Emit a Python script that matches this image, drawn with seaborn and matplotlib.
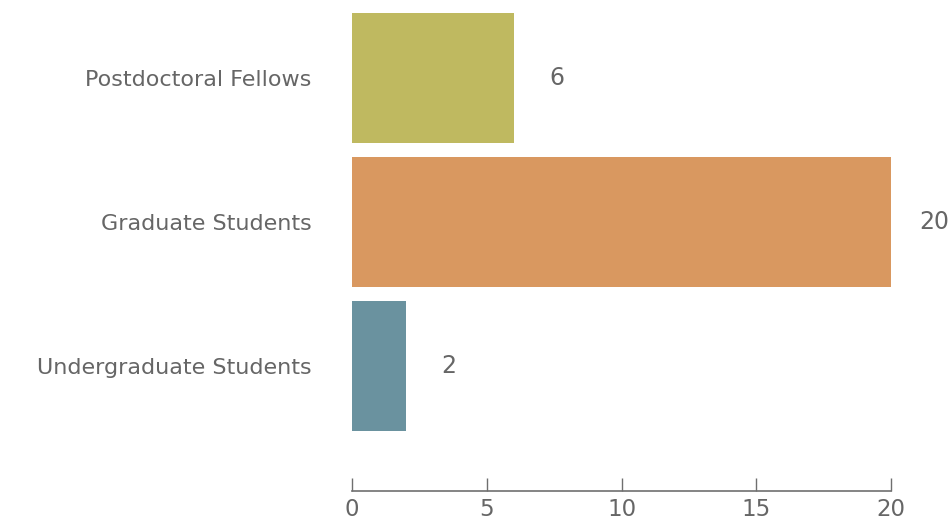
import matplotlib
matplotlib.use("Agg")
import matplotlib.pyplot as plt
import seaborn as sns
import pandas as pd

categories = ["Postdoctoral Fellows", "Graduate Students", "Undergraduate Students"]
values = [6, 20, 2]
colors = ["#BFB960", "#D99860", "#6A929F"]
xticks = [0, 5, 10, 15, 20]

sns.set_theme(style="white")
plt.rcParams["font.family"] = ["DejaVu Sans"]

df = pd.DataFrame({"category": categories, "value": values})

fig = plt.figure(figsize=(9.49, 5.22), dpi=100)
ax = fig.add_axes([352/949, (522-491)/522, (891-352)/949, 491/522])
sns.barplot(data=df, x="value", y="category", hue="category", palette=colors,
            order=categories, hue_order=categories, width=0.9, legend=False,
            saturation=1, linewidth=0, ax=ax)
ax.set_xlim(0, 20)
ax.set_ylim(2 + 0.868, -0.54)
ax.set_xlabel("")
ax.set_ylabel("")
ax.set_xticks(xticks)
ax.set_xticklabels([str(t) for t in xticks])
for s in ["top", "right", "left"]:
    ax.spines[s].set_visible(False)
ax.spines["bottom"].set_color("#6f6f6f")
ax.spines["bottom"].set_linewidth(1.2)
ax.tick_params(axis="x", bottom=True, direction="in", length=9.5, width=1,
               color="#6f6f6f", labelsize=16.5, labelcolor="#666666", pad=5)
ax.tick_params(axis="y", left=False, length=0, labelsize=16,
               labelcolor="#666666", pad=29)

for i, v in enumerate(values):
    ax.annotate(str(v), xy=(v, i), xytext=(31, 0), textcoords="offset points",
                ha="center", va="center", fontsize=17, color="#666666",
                annotation_clip=False)

fig.savefig("out.png", dpi=100)
